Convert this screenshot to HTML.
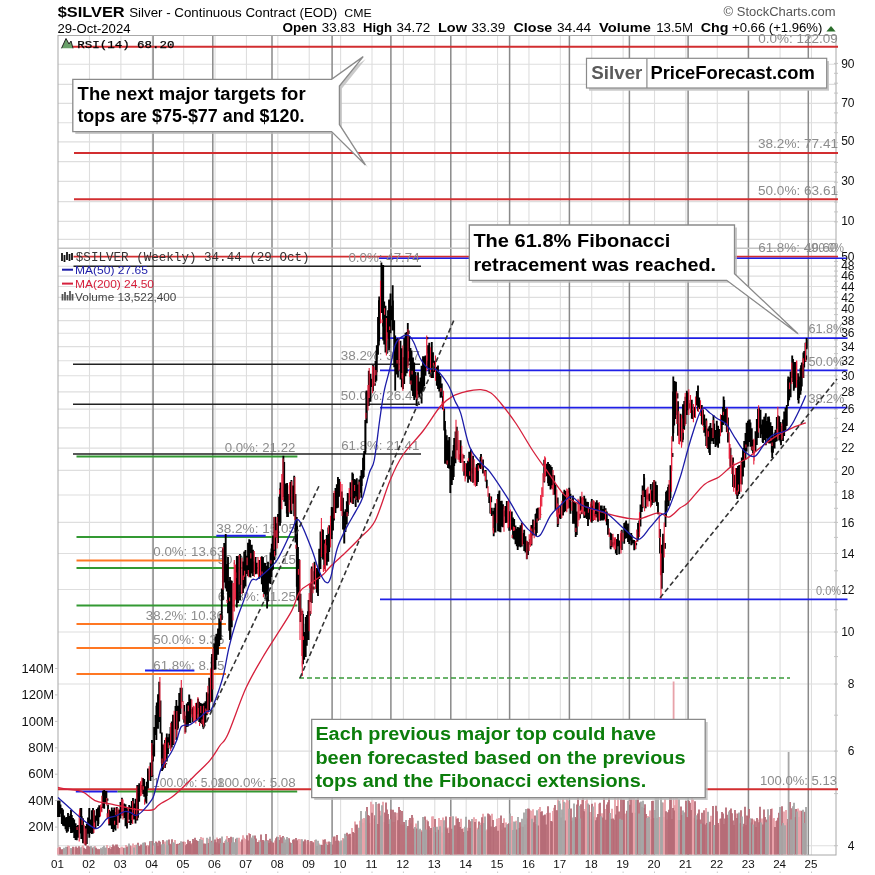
<!DOCTYPE html>
<html><head><meta charset="utf-8"><style>html,body{margin:0;padding:0;background:#fff;width:875px;height:875px;overflow:hidden;position:relative}</style></head>
<body>
<svg width="875" height="875" viewBox="0 0 875 875" style="position:absolute;left:0;top:0;will-change:transform">
<rect x="0" y="0" width="875" height="875" fill="#fff"/>
<path d="M89.49 35.5V855M120.88 35.5V855M152.27 35.5V855M183.66 35.5V855M215.05 35.5V855M246.44 35.5V855M277.83 35.5V855M309.22 35.5V855M340.61 35.5V855M372.00 35.5V855M403.39 35.5V855M434.78 35.5V855M466.17 35.5V855M497.56 35.5V855M528.95 35.5V855M560.34 35.5V855M591.73 35.5V855M623.12 35.5V855M654.51 35.5V855M685.90 35.5V855M717.29 35.5V855M748.68 35.5V855M780.07 35.5V855M811.46 35.5V855M58 64.3H836M58 84.4H836M58 103.4H836M58 122.8H836M58 141.9H836M58 161.6H836M58 181.4H836M58 201.6H836M58 221.4H836M58 239.4H836M58 845.68H836M58 751.12H836M58 684.03H836M58 632.00H836M58 589.48H836M58 553.53H836M58 522.39H836M58 494.93H836M58 470.36H836M58 448.13H836M58 427.84H836M58 409.17H836M58 391.89H836M58 375.80H836M58 360.75H836M58 346.61H836M58 333.28H836M58 320.67H836M58 308.71H836M58 297.34H836M58 286.49H836M58 276.12H836M58 266.20H836" stroke="#dedede" stroke-width="1.1" fill="none"/>
<path d="M153.1 35.5V855M212.8 35.5V855M272.0 35.5V855M332.1 35.5V855M390.9 35.5V855M450.8 35.5V855M509.6 35.5V855M569.4 35.5V855M629.4 35.5V855M688.1 35.5V855M748.4 35.5V855M808.3 35.5V855" stroke="#8a8a8a" stroke-width="1.5" fill="none"/>
<rect x="58" y="35.5" width="778" height="819.5" fill="none" stroke="#a8a8a8" stroke-width="1"/>
<line x1="58" y1="248.2" x2="836" y2="248.2" stroke="#c4c4c4" stroke-width="1.5"/>
<path d="M834 221.8H838M834 211.9H838M834 202.0H838M834 192.1H838M834 182.2H838M834 172.3H838M834 162.4H838M834 152.5H838M834 142.6H838M834 132.7H838M834 122.8H838M834 112.9H838M834 103.0H838M834 93.1H838M834 83.2H838M834 73.3H838M834 63.4H838M834 845.7H838M834 793.6H838M834 751.1H838M834 715.2H838M834 684.0H838M834 656.6H838M834 632.0H838M834 609.8H838M834 589.5H838M834 570.8H838M834 553.5H838M834 537.4H838M834 522.4H838M834 508.3H838M834 494.9H838M834 482.3H838M834 470.4H838M834 459.0H838M834 448.1H838M834 437.8H838M834 427.8H838M834 418.3H838M834 409.2H838M834 400.4H838M834 391.9H838M834 383.7H838M834 375.8H838M834 368.2H838M834 360.8H838M834 353.6H838M834 346.6H838M834 339.9H838M834 333.3H838M834 326.9H838M834 320.7H838M834 314.6H838M834 308.7H838M834 303.0H838M834 297.3H838M834 291.8H838M834 286.5H838M834 281.2H838M834 276.1H838M834 271.1H838M834 266.2H838M834 261.4H838M834 256.7H838M55 827.1H58M55 800.6H58M55 774.2H58M55 747.8H58M55 721.4H58M55 694.9H58M55 668.5H58" stroke="#c4c4c4" stroke-width="1" fill="none"/>
<path d="M58.0 854.5V848.1M59.0 854.5V846.7M63.0 854.5V849.1M65.0 854.5V848.9M68.0 854.5V845.4M69.0 854.5V845.9M70.0 854.5V848.8M74.0 854.5V847.2M75.0 854.5V849.2M78.0 854.5V847.6M82.0 854.5V846.4M83.0 854.5V845.4M95.0 854.5V846.0M98.0 854.5V848.7M100.0 854.5V848.9M107.0 854.5V844.9M108.0 854.5V848.2M110.0 854.5V846.3M115.0 854.5V845.5M120.0 854.5V848.1M121.0 854.5V847.4M122.0 854.5V846.7M123.0 854.5V848.3M126.0 854.5V845.0M128.0 854.5V846.2M131.0 854.5V847.5M132.0 854.5V846.0M133.0 854.5V843.4M135.0 854.5V844.9M136.0 854.5V844.7M142.0 854.5V845.5M147.0 854.5V845.1M148.0 854.5V846.9M153.0 854.5V845.5M154.0 854.5V845.6M165.0 854.5V841.5M166.0 854.5V845.4M171.0 854.5V845.1M175.0 854.5V840.0M176.0 854.5V844.0M184.0 854.5V841.5M185.0 854.5V842.1M192.0 854.5V843.1M201.0 854.5V837.1M203.0 854.5V837.7M205.0 854.5V843.8M209.0 854.5V838.7M217.0 854.5V837.6M223.0 854.5V842.6M225.0 854.5V841.0M227.0 854.5V836.0M230.0 854.5V842.3M238.0 854.5V840.3M239.0 854.5V837.8M240.0 854.5V841.6M241.0 854.5V842.2M243.0 854.5V835.3M244.0 854.5V837.7M245.0 854.5V839.1M246.0 854.5V840.0M249.0 854.5V833.1M257.0 854.5V842.0M259.0 854.5V840.2M262.0 854.5V840.1M272.0 854.5V843.1M274.0 854.5V842.9M275.0 854.5V840.6M280.0 854.5V834.9M290.0 854.5V842.1M295.0 854.5V840.4M298.0 854.5V839.4M299.0 854.5V839.0M300.0 854.5V844.2M301.0 854.5V839.3M306.0 854.5V840.5M307.0 854.5V844.3M309.0 854.5V841.4M310.0 854.5V845.2M312.0 854.5V841.0M314.0 854.5V842.7M315.0 854.5V839.9M319.0 854.5V843.4M323.0 854.5V839.4M327.0 854.5V841.7M333.0 854.5V837.5M335.0 854.5V836.4M339.0 854.5V840.9M342.0 854.5V840.6M343.0 854.5V837.9M348.0 854.5V834.7M351.0 854.5V837.3M352.0 854.5V828.1M355.0 854.5V821.6M358.0 854.5V829.7M360.0 854.5V820.8M362.0 854.5V818.7M363.0 854.5V822.8M364.0 854.5V818.1M365.0 854.5V819.1M370.0 854.5V823.3M371.0 854.5V801.8M373.0 854.5V804.3M374.0 854.5V818.4M377.0 854.5V804.1M380.0 854.5V810.8M383.0 854.5V801.7M384.0 854.5V822.2M392.0 854.5V821.8M394.0 854.5V822.1M396.0 854.5V816.5M397.0 854.5V812.7M401.0 854.5V824.4M403.0 854.5V824.7M405.0 854.5V824.4M407.0 854.5V828.0M409.0 854.5V819.9M411.0 854.5V823.2M413.0 854.5V817.7M416.0 854.5V823.6M421.0 854.5V830.1M427.0 854.5V819.8M430.0 854.5V829.9M432.0 854.5V816.4M433.0 854.5V816.3M439.0 854.5V817.9M441.0 854.5V820.1M442.0 854.5V832.5M443.0 854.5V817.4M445.0 854.5V827.2M448.0 854.5V827.5M451.0 854.5V816.5M454.0 854.5V826.1M456.0 854.5V816.5M461.0 854.5V818.8M463.0 854.5V828.2M467.0 854.5V827.7M473.0 854.5V820.4M474.0 854.5V817.2M476.0 854.5V818.9M477.0 854.5V827.7M481.0 854.5V822.8M483.0 854.5V813.8M486.0 854.5V830.9M487.0 854.5V829.4M492.0 854.5V813.7M495.0 854.5V828.5M497.0 854.5V818.7M499.0 854.5V818.0M500.0 854.5V824.9M502.0 854.5V829.5M504.0 854.5V818.3M506.0 854.5V822.6M511.0 854.5V823.1M512.0 854.5V815.9M516.0 854.5V820.7M521.0 854.5V826.5M525.0 854.5V824.6M527.0 854.5V818.2M530.0 854.5V810.2M531.0 854.5V810.7M533.0 854.5V809.2M536.0 854.5V824.0M539.0 854.5V809.0M540.0 854.5V806.9M547.0 854.5V813.1M549.0 854.5V813.3M550.0 854.5V812.7M553.0 854.5V811.1M554.0 854.5V807.7M556.0 854.5V810.3M558.0 854.5V798.6M563.0 854.5V798.6M566.0 854.5V802.4M567.0 854.5V798.7M568.0 854.5V800.7M570.0 854.5V816.4M572.0 854.5V820.7M582.0 854.5V799.8M585.0 854.5V809.0M586.0 854.5V800.8M587.0 854.5V798.7M590.0 854.5V812.1M591.0 854.5V819.6M594.0 854.5V816.8M595.0 854.5V802.4M599.0 854.5V803.8M602.0 854.5V813.3M605.0 854.5V808.9M612.0 854.5V808.8M615.0 854.5V794.0M618.0 854.5V797.6M625.0 854.5V813.8M626.0 854.5V813.6M629.0 854.5V800.4M633.0 854.5V793.4M634.0 854.5V795.7M635.0 854.5V812.8M648.0 854.5V816.0M650.0 854.5V810.5M651.0 854.5V819.2M659.0 854.5V817.0M660.0 854.5V816.9M663.0 854.5V802.6M664.0 854.5V817.2M665.0 854.5V799.1M667.0 854.5V819.4M675.0 854.5V805.2M676.0 854.5V796.2M677.0 854.5V797.4M678.0 854.5V820.0M685.0 854.5V812.2M692.0 854.5V797.9M693.0 854.5V799.2M694.0 854.5V817.7M706.0 854.5V807.9M709.0 854.5V823.8M711.0 854.5V815.8M712.0 854.5V820.0M719.0 854.5V824.9M720.0 854.5V818.7M728.0 854.5V818.0M736.0 854.5V813.4M754.0 854.5V819.4M758.0 854.5V819.5M762.0 854.5V818.6M769.0 854.5V817.0M770.0 854.5V815.2M772.0 854.5V808.6M773.0 854.5V819.0M774.0 854.5V817.9M776.0 854.5V821.1M784.0 854.5V811.4M786.0 854.5V809.9M787.0 854.5V822.6M789.0 854.5V816.0M798.0 854.5V808.6M799.0 854.5V816.9M800.0 854.5V810.4M801.0 854.5V811.2M673.6 854.5V681.6" stroke="#e8a2a9" stroke-width="1.8" fill="none"/>
<path d="M60.0 854.5V847.2M61.0 854.5V849.2M62.0 854.5V849.2M67.0 854.5V847.0M72.0 854.5V848.7M73.0 854.5V846.8M76.0 854.5V846.6M77.0 854.5V848.1M79.0 854.5V846.2M80.0 854.5V848.4M84.0 854.5V847.7M85.0 854.5V848.8M86.0 854.5V849.2M87.0 854.5V846.3M88.0 854.5V845.8M89.0 854.5V846.6M90.0 854.5V847.0M92.0 854.5V847.5M93.0 854.5V849.2M96.0 854.5V847.8M97.0 854.5V849.3M99.0 854.5V849.2M102.0 854.5V849.0M105.0 854.5V848.0M109.0 854.5V847.9M111.0 854.5V848.9M112.0 854.5V847.1M113.0 854.5V844.4M114.0 854.5V846.3M116.0 854.5V844.4M117.0 854.5V844.4M118.0 854.5V846.7M119.0 854.5V848.0M124.0 854.5V847.7M127.0 854.5V846.8M130.0 854.5V845.5M138.0 854.5V842.8M139.0 854.5V846.1M140.0 854.5V846.5M141.0 854.5V844.4M145.0 854.5V842.5M146.0 854.5V845.9M149.0 854.5V845.5M150.0 854.5V841.3M152.0 854.5V841.1M156.0 854.5V841.5M157.0 854.5V842.6M158.0 854.5V846.1M159.0 854.5V840.8M160.0 854.5V841.7M161.0 854.5V845.3M163.0 854.5V840.1M169.0 854.5V839.5M170.0 854.5V843.7M172.0 854.5V839.3M177.0 854.5V844.0M178.0 854.5V843.8M180.0 854.5V843.0M183.0 854.5V841.8M186.0 854.5V845.2M187.0 854.5V843.9M188.0 854.5V839.8M189.0 854.5V842.7M190.0 854.5V840.9M191.0 854.5V844.2M193.0 854.5V839.0M194.0 854.5V840.6M195.0 854.5V837.8M196.0 854.5V840.0M197.0 854.5V840.7M198.0 854.5V841.1M204.0 854.5V843.4M206.0 854.5V843.7M208.0 854.5V842.9M212.0 854.5V840.7M214.0 854.5V842.6M215.0 854.5V839.5M216.0 854.5V842.2M218.0 854.5V839.0M219.0 854.5V843.5M220.0 854.5V838.2M224.0 854.5V843.1M229.0 854.5V838.1M231.0 854.5V836.8M236.0 854.5V838.7M242.0 854.5V839.6M247.0 854.5V835.2M248.0 854.5V840.4M250.0 854.5V834.1M252.0 854.5V838.5M255.0 854.5V835.6M256.0 854.5V838.6M258.0 854.5V841.9M261.0 854.5V834.5M263.0 854.5V840.0M264.0 854.5V841.4M266.0 854.5V833.9M268.0 854.5V840.2M269.0 854.5V843.0M270.0 854.5V838.8M271.0 854.5V841.3M273.0 854.5V842.4M276.0 854.5V838.2M277.0 854.5V836.8M279.0 854.5V840.1M281.0 854.5V837.3M283.0 854.5V836.0M285.0 854.5V842.6M289.0 854.5V838.2M291.0 854.5V843.0M293.0 854.5V839.7M294.0 854.5V839.2M296.0 854.5V838.1M297.0 854.5V840.6M303.0 854.5V841.3M304.0 854.5V841.5M305.0 854.5V839.5M308.0 854.5V840.1M311.0 854.5V840.9M313.0 854.5V842.3M317.0 854.5V846.0M321.0 854.5V844.8M322.0 854.5V845.1M324.0 854.5V840.0M325.0 854.5V839.3M328.0 854.5V845.1M329.0 854.5V841.5M330.0 854.5V843.7M332.0 854.5V844.5M334.0 854.5V836.5M336.0 854.5V840.7M337.0 854.5V835.0M338.0 854.5V840.4M347.0 854.5V832.7M349.0 854.5V834.3M350.0 854.5V833.8M353.0 854.5V832.1M354.0 854.5V833.0M356.0 854.5V824.6M357.0 854.5V824.5M367.0 854.5V807.0M368.0 854.5V815.0M369.0 854.5V815.8M372.0 854.5V812.8M375.0 854.5V815.3M378.0 854.5V824.0M379.0 854.5V803.5M385.0 854.5V812.4M386.0 854.5V802.4M387.0 854.5V809.4M388.0 854.5V813.9M389.0 854.5V823.9M391.0 854.5V809.5M393.0 854.5V809.7M395.0 854.5V812.3M398.0 854.5V820.3M399.0 854.5V807.1M400.0 854.5V809.9M402.0 854.5V810.9M404.0 854.5V822.0M408.0 854.5V826.0M410.0 854.5V817.9M412.0 854.5V815.0M414.0 854.5V828.4M417.0 854.5V828.5M419.0 854.5V829.9M422.0 854.5V831.5M425.0 854.5V816.4M428.0 854.5V821.2M429.0 854.5V826.3M431.0 854.5V828.1M435.0 854.5V818.9M436.0 854.5V832.2M438.0 854.5V829.8M446.0 854.5V816.6M447.0 854.5V828.5M449.0 854.5V832.9M450.0 854.5V817.1M452.0 854.5V828.8M455.0 854.5V825.3M457.0 854.5V818.7M458.0 854.5V818.3M459.0 854.5V822.0M460.0 854.5V827.0M462.0 854.5V829.1M464.0 854.5V831.9M468.0 854.5V830.7M469.0 854.5V819.7M470.0 854.5V828.1M471.0 854.5V821.2M475.0 854.5V822.0M479.0 854.5V821.6M482.0 854.5V817.3M488.0 854.5V813.6M489.0 854.5V814.3M490.0 854.5V815.4M491.0 854.5V826.5M493.0 854.5V820.1M494.0 854.5V827.1M496.0 854.5V826.3M498.0 854.5V830.7M501.0 854.5V815.6M503.0 854.5V823.1M505.0 854.5V827.4M508.0 854.5V824.3M509.0 854.5V823.3M517.0 854.5V829.5M519.0 854.5V827.9M520.0 854.5V822.2M523.0 854.5V826.8M528.0 854.5V808.6M529.0 854.5V808.8M534.0 854.5V822.3M535.0 854.5V815.5M538.0 854.5V825.4M541.0 854.5V812.1M542.0 854.5V811.2M543.0 854.5V815.7M544.0 854.5V815.3M545.0 854.5V814.6M546.0 854.5V824.4M548.0 854.5V806.3M551.0 854.5V820.9M552.0 854.5V821.6M555.0 854.5V805.0M557.0 854.5V810.2M565.0 854.5V820.4M571.0 854.5V808.5M575.0 854.5V817.0M576.0 854.5V818.4M577.0 854.5V804.5M578.0 854.5V798.1M581.0 854.5V804.3M583.0 854.5V794.5M584.0 854.5V811.3M589.0 854.5V804.8M592.0 854.5V803.7M596.0 854.5V820.2M597.0 854.5V817.3M598.0 854.5V814.0M600.0 854.5V802.8M603.0 854.5V817.4M604.0 854.5V796.0M606.0 854.5V819.7M607.0 854.5V804.5M608.0 854.5V802.2M609.0 854.5V794.1M611.0 854.5V818.8M613.0 854.5V818.4M614.0 854.5V819.7M616.0 854.5V814.5M617.0 854.5V806.0M619.0 854.5V811.5M621.0 854.5V798.4M623.0 854.5V799.4M624.0 854.5V799.5M627.0 854.5V810.7M630.0 854.5V804.7M631.0 854.5V798.2M632.0 854.5V812.7M637.0 854.5V799.4M638.0 854.5V795.7M640.0 854.5V802.6M644.0 854.5V807.9M645.0 854.5V804.3M646.0 854.5V814.1M652.0 854.5V800.9M653.0 854.5V800.8M654.0 854.5V818.2M666.0 854.5V811.2M668.0 854.5V812.2M669.0 854.5V809.8M670.0 854.5V793.4M671.0 854.5V796.5M672.0 854.5V819.1M673.0 854.5V808.0M674.0 854.5V810.4M680.0 854.5V819.9M681.0 854.5V806.4M682.0 854.5V814.9M686.0 854.5V800.7M687.0 854.5V817.0M688.0 854.5V817.8M689.0 854.5V800.8M690.0 854.5V802.7M691.0 854.5V809.9M695.0 854.5V801.3M697.0 854.5V819.5M698.0 854.5V813.5M699.0 854.5V809.6M700.0 854.5V819.6M702.0 854.5V812.7M703.0 854.5V823.5M704.0 854.5V810.3M705.0 854.5V824.4M707.0 854.5V823.0M710.0 854.5V821.8M713.0 854.5V805.9M715.0 854.5V825.0M716.0 854.5V805.7M717.0 854.5V811.2M718.0 854.5V822.9M721.0 854.5V818.5M722.0 854.5V812.1M723.0 854.5V813.4M724.0 854.5V824.1M725.0 854.5V818.4M726.0 854.5V807.4M727.0 854.5V814.7M730.0 854.5V810.3M731.0 854.5V808.6M732.0 854.5V813.2M733.0 854.5V820.4M734.0 854.5V825.1M735.0 854.5V810.1M737.0 854.5V817.9M738.0 854.5V813.6M740.0 854.5V823.2M741.0 854.5V810.2M743.0 854.5V826.4M744.0 854.5V823.7M745.0 854.5V806.7M746.0 854.5V825.0M747.0 854.5V815.4M748.0 854.5V816.0M749.0 854.5V809.1M751.0 854.5V822.6M752.0 854.5V818.6M755.0 854.5V821.2M756.0 854.5V826.9M757.0 854.5V818.0M759.0 854.5V822.3M760.0 854.5V806.7M763.0 854.5V824.4M764.0 854.5V809.5M765.0 854.5V817.0M767.0 854.5V819.5M771.0 854.5V809.0M775.0 854.5V827.1M777.0 854.5V820.6M778.0 854.5V817.8M779.0 854.5V812.8M782.0 854.5V806.3M788.0 854.5V819.1M790.0 854.5V801.9M792.0 854.5V808.2M795.0 854.5V817.3M796.0 854.5V808.9M802.0 854.5V810.8M805.0 854.5V811.8" stroke="#b66c77" stroke-width="1.8" fill="none"/>
<path d="M64.0 854.5V847.7M66.0 854.5V846.8M71.0 854.5V848.1M81.0 854.5V847.3M91.0 854.5V846.0M94.0 854.5V846.8M101.0 854.5V847.7M103.0 854.5V847.0M104.0 854.5V845.7M106.0 854.5V847.6M125.0 854.5V848.1M129.0 854.5V843.6M134.0 854.5V847.6M137.0 854.5V844.7M143.0 854.5V842.7M144.0 854.5V842.4M151.0 854.5V841.3M155.0 854.5V842.9M162.0 854.5V844.3M164.0 854.5V843.7M167.0 854.5V840.2M168.0 854.5V845.2M173.0 854.5V842.3M174.0 854.5V842.8M179.0 854.5V844.7M181.0 854.5V841.3M182.0 854.5V842.4M199.0 854.5V840.9M200.0 854.5V839.1M202.0 854.5V840.0M207.0 854.5V837.8M210.0 854.5V836.8M211.0 854.5V842.2M213.0 854.5V835.6M221.0 854.5V843.0M222.0 854.5V836.6M226.0 854.5V839.6M228.0 854.5V841.9M232.0 854.5V842.4M233.0 854.5V837.2M234.0 854.5V842.2M235.0 854.5V842.3M237.0 854.5V837.7M251.0 854.5V837.4M253.0 854.5V835.6M254.0 854.5V839.1M260.0 854.5V841.8M265.0 854.5V840.4M267.0 854.5V840.7M278.0 854.5V837.1M282.0 854.5V843.3M284.0 854.5V837.4M286.0 854.5V839.5M287.0 854.5V837.0M288.0 854.5V839.0M292.0 854.5V843.3M302.0 854.5V839.3M316.0 854.5V839.5M318.0 854.5V840.8M320.0 854.5V845.0M326.0 854.5V843.8M331.0 854.5V842.1M340.0 854.5V842.3M341.0 854.5V840.4M344.0 854.5V839.0M345.0 854.5V833.8M346.0 854.5V836.1M359.0 854.5V827.7M361.0 854.5V811.0M366.0 854.5V811.3M376.0 854.5V802.1M381.0 854.5V815.5M382.0 854.5V805.2M390.0 854.5V819.3M406.0 854.5V820.0M415.0 854.5V827.1M418.0 854.5V820.7M420.0 854.5V828.8M423.0 854.5V816.9M424.0 854.5V819.8M426.0 854.5V829.5M434.0 854.5V826.9M437.0 854.5V826.7M440.0 854.5V826.2M444.0 854.5V820.3M453.0 854.5V816.2M465.0 854.5V826.7M466.0 854.5V816.8M472.0 854.5V818.9M478.0 854.5V829.3M480.0 854.5V824.9M484.0 854.5V823.1M485.0 854.5V816.4M507.0 854.5V824.4M510.0 854.5V813.4M513.0 854.5V829.9M514.0 854.5V821.6M515.0 854.5V821.9M518.0 854.5V817.0M522.0 854.5V818.7M524.0 854.5V812.4M526.0 854.5V808.9M532.0 854.5V818.7M537.0 854.5V810.3M559.0 854.5V800.7M560.0 854.5V803.6M561.0 854.5V817.4M562.0 854.5V809.6M564.0 854.5V801.8M569.0 854.5V808.7M573.0 854.5V817.4M574.0 854.5V803.6M579.0 854.5V805.8M580.0 854.5V818.4M588.0 854.5V803.4M593.0 854.5V806.4M601.0 854.5V816.3M610.0 854.5V813.1M620.0 854.5V818.7M622.0 854.5V819.8M628.0 854.5V800.8M636.0 854.5V799.5M639.0 854.5V813.4M641.0 854.5V801.6M642.0 854.5V807.0M643.0 854.5V800.7M647.0 854.5V817.9M649.0 854.5V817.1M655.0 854.5V810.0M656.0 854.5V797.4M657.0 854.5V818.2M658.0 854.5V794.8M661.0 854.5V796.6M662.0 854.5V802.5M679.0 854.5V799.0M683.0 854.5V810.4M684.0 854.5V812.8M696.0 854.5V815.2M701.0 854.5V823.8M708.0 854.5V811.8M714.0 854.5V825.0M729.0 854.5V811.4M739.0 854.5V812.5M742.0 854.5V816.5M750.0 854.5V818.2M753.0 854.5V824.5M761.0 854.5V822.4M766.0 854.5V822.3M768.0 854.5V809.3M780.0 854.5V806.9M781.0 854.5V825.6M783.0 854.5V823.1M785.0 854.5V825.3M791.0 854.5V819.5M793.0 854.5V806.2M794.0 854.5V802.7M797.0 854.5V811.4M803.0 854.5V809.7M804.0 854.5V823.1M806.0 854.5V807.0M788.6 854.5V752" stroke="#a6a6a6" stroke-width="1.8" fill="none"/>
<line x1="73" y1="46.8" x2="838" y2="46.8" stroke="#d22e30" stroke-width="2"/>
<line x1="74" y1="153" x2="838" y2="153" stroke="#d22e30" stroke-width="2"/>
<line x1="74" y1="199.3" x2="838" y2="199.3" stroke="#d22e30" stroke-width="2"/>
<line x1="73.5" y1="266.2" x2="421" y2="266.2" stroke="#222" stroke-width="1.6"/>
<line x1="73" y1="364.3" x2="420" y2="364.3" stroke="#222" stroke-width="1.6"/>
<line x1="73" y1="404.2" x2="420" y2="404.2" stroke="#222" stroke-width="1.6"/>
<line x1="73" y1="454" x2="421" y2="454" stroke="#222" stroke-width="1.6"/>
<line x1="76.5" y1="456.6" x2="297.4" y2="456.6" stroke="#339933" stroke-width="2"/>
<line x1="76.5" y1="537" x2="297.4" y2="537" stroke="#339933" stroke-width="2"/>
<line x1="76.5" y1="568" x2="297.4" y2="568" stroke="#339933" stroke-width="2"/>
<line x1="76.5" y1="605.5" x2="297.4" y2="605.5" stroke="#339933" stroke-width="2"/>
<line x1="117.4" y1="791.4" x2="297.2" y2="791.4" stroke="#339933" stroke-width="2"/>
<line x1="76.5" y1="560.5" x2="226" y2="560.5" stroke="#ff7722" stroke-width="2"/>
<line x1="76.5" y1="624" x2="226" y2="624" stroke="#ff7722" stroke-width="2"/>
<line x1="76.5" y1="648" x2="226" y2="648" stroke="#ff7722" stroke-width="2"/>
<line x1="76.5" y1="674" x2="226" y2="674" stroke="#ff7722" stroke-width="2"/>
<line x1="145" y1="670.4" x2="194.4" y2="670.4" stroke="#1f1fe6" stroke-width="2"/>
<line x1="216.3" y1="535.7" x2="265.7" y2="535.7" stroke="#1f1fe6" stroke-width="2"/>
<line x1="75.8" y1="791.4" x2="117.4" y2="791.4" stroke="#1f1fe6" stroke-width="2"/>
<line x1="58" y1="789.3" x2="838" y2="789.3" stroke="#d22e30" stroke-width="2"/>
<line x1="73.5" y1="256.6" x2="838" y2="256.6" stroke="#d22e30" stroke-width="1.6"/>
<line x1="379" y1="258.2" x2="847" y2="258.2" stroke="#1f1fe6" stroke-width="1.6"/>
<line x1="380" y1="338.1" x2="847.5" y2="338.1" stroke="#1f1fe6" stroke-width="1.7"/>
<line x1="380" y1="370.4" x2="847.5" y2="370.4" stroke="#1f1fe6" stroke-width="1.7"/>
<line x1="380" y1="407.6" x2="847.5" y2="407.6" stroke="#1f1fe6" stroke-width="1.7"/>
<line x1="380" y1="599.4" x2="847.5" y2="599.4" stroke="#1f1fe6" stroke-width="1.7"/>
<line x1="299" y1="678.1" x2="790" y2="678.1" stroke="#3a9a3a" stroke-width="1.5" stroke-dasharray="5,3"/>
<text x="758.2" y="42.5" font-family="Liberation Sans, sans-serif" font-size="12" fill="#8c8c8c" font-weight="normal" text-anchor="start" textLength="79.6" lengthAdjust="spacingAndGlyphs">0.0%: 122.09</text>
<text x="758" y="148" font-family="Liberation Sans, sans-serif" font-size="12" fill="#8c8c8c" font-weight="normal" text-anchor="start" textLength="80" lengthAdjust="spacingAndGlyphs">38.2%: 77.41</text>
<text x="758" y="194.5" font-family="Liberation Sans, sans-serif" font-size="12" fill="#8c8c8c" font-weight="normal" text-anchor="start" textLength="80" lengthAdjust="spacingAndGlyphs">50.0%: 63.61</text>
<text x="758.2" y="252" font-family="Liberation Sans, sans-serif" font-size="12" fill="#8c8c8c" font-weight="normal" text-anchor="start" textLength="79" lengthAdjust="spacingAndGlyphs">61.8%: 49.60</text>
<text x="806" y="252" font-family="Liberation Sans, sans-serif" font-size="12" fill="#8c8c8c" font-weight="normal" text-anchor="start" textLength="38" lengthAdjust="spacingAndGlyphs">100.0%</text>
<text x="348.4" y="262.3" font-family="Liberation Sans, sans-serif" font-size="12" fill="#8c8c8c" font-weight="normal" text-anchor="start" textLength="71.3" lengthAdjust="spacingAndGlyphs">0.0%: 47.74</text>
<text x="340.7" y="360" font-family="Liberation Sans, sans-serif" font-size="12" fill="#8c8c8c" font-weight="normal" text-anchor="start" textLength="79.3" lengthAdjust="spacingAndGlyphs">38.2%: 31.47</text>
<text x="340.7" y="400" font-family="Liberation Sans, sans-serif" font-size="12" fill="#8c8c8c" font-weight="normal" text-anchor="start" textLength="79.3" lengthAdjust="spacingAndGlyphs">50.0%: 26.44</text>
<text x="341.2" y="450" font-family="Liberation Sans, sans-serif" font-size="12" fill="#8c8c8c" font-weight="normal" text-anchor="start" textLength="78.2" lengthAdjust="spacingAndGlyphs">61.8%: 21.41</text>
<text x="224.7" y="452.2" font-family="Liberation Sans, sans-serif" font-size="12" fill="#8c8c8c" font-weight="normal" text-anchor="start" textLength="70.7" lengthAdjust="spacingAndGlyphs">0.0%: 21.22</text>
<text x="216.3" y="532.5" font-family="Liberation Sans, sans-serif" font-size="12" fill="#8c8c8c" font-weight="normal" text-anchor="start" textLength="79.7" lengthAdjust="spacingAndGlyphs">38.2%: 15.05</text>
<text x="217.7" y="564.2" font-family="Liberation Sans, sans-serif" font-size="12" fill="#8c8c8c" font-weight="normal" text-anchor="start" textLength="78.3" lengthAdjust="spacingAndGlyphs">50.0%: 13.15</text>
<text x="217.7" y="601.2" font-family="Liberation Sans, sans-serif" font-size="12" fill="#8c8c8c" font-weight="normal" text-anchor="start" textLength="78.3" lengthAdjust="spacingAndGlyphs">61.8%: 11.25</text>
<text x="153.3" y="556" font-family="Liberation Sans, sans-serif" font-size="12" fill="#8c8c8c" font-weight="normal" text-anchor="start" textLength="71" lengthAdjust="spacingAndGlyphs">0.0%: 13.63</text>
<text x="145.8" y="620.2" font-family="Liberation Sans, sans-serif" font-size="12" fill="#8c8c8c" font-weight="normal" text-anchor="start" textLength="78.2" lengthAdjust="spacingAndGlyphs">38.2%: 10.36</text>
<text x="153.3" y="643.5" font-family="Liberation Sans, sans-serif" font-size="12" fill="#8c8c8c" font-weight="normal" text-anchor="start" textLength="71" lengthAdjust="spacingAndGlyphs">50.0%: 9.36</text>
<text x="153.3" y="669.5" font-family="Liberation Sans, sans-serif" font-size="12" fill="#8c8c8c" font-weight="normal" text-anchor="start" textLength="71" lengthAdjust="spacingAndGlyphs">61.8%: 8.35</text>
<text x="153" y="786.5" font-family="Liberation Sans, sans-serif" font-size="12" fill="#8c8c8c" font-weight="normal" text-anchor="start" textLength="71.4" lengthAdjust="spacingAndGlyphs">100.0%: 5.08</text>
<text x="217" y="786.5" font-family="Liberation Sans, sans-serif" font-size="12" fill="#8c8c8c" font-weight="normal" text-anchor="start" textLength="78.7" lengthAdjust="spacingAndGlyphs">100.0%: 5.08</text>
<text x="760" y="784.6" font-family="Liberation Sans, sans-serif" font-size="12" fill="#8c8c8c" font-weight="normal" text-anchor="start" textLength="77" lengthAdjust="spacingAndGlyphs">100.0%: 5.13</text>
<text x="808.4" y="333.4" font-family="Liberation Sans, sans-serif" font-size="12" fill="#8c8c8c" font-weight="normal" text-anchor="start" textLength="36" lengthAdjust="spacingAndGlyphs">61.8%</text>
<text x="808.4" y="365.8" font-family="Liberation Sans, sans-serif" font-size="12" fill="#8c8c8c" font-weight="normal" text-anchor="start" textLength="36" lengthAdjust="spacingAndGlyphs">50.0%</text>
<text x="808.4" y="403" font-family="Liberation Sans, sans-serif" font-size="12" fill="#8c8c8c" font-weight="normal" text-anchor="start" textLength="36" lengthAdjust="spacingAndGlyphs">38.2%</text>
<text x="816" y="595" font-family="Liberation Sans, sans-serif" font-size="12" fill="#8c8c8c" font-weight="normal" text-anchor="start" textLength="25" lengthAdjust="spacingAndGlyphs">0.0%</text>
<path d="M58.0 800.7V810.4M59.2 800.6V816.5M60.5 804.4V813.8M61.8 808.7V823.5M63.0 809.4V825.7M64.2 815.6V826.3M65.5 817.7V829.2M66.8 818.9V832.7M68.0 813.1V831.4M69.2 816.0V827.0M70.5 814.3V828.7M71.8 815.0V833.1M73.0 818.0V832.6M74.2 819.4V837.9M75.5 823.2V839.3M76.8 826.1V840.2M78.0 825.0V837.7M80.5 807.9V833.4M81.8 816.2V833.0M83.0 818.3V843.3M85.5 826.0V845.3M86.8 823.9V844.1M88.0 817.4V833.7M89.2 809.2V834.3M90.5 819.6V832.9M91.8 810.2V833.9M93.0 808.0V833.5M94.2 810.3V828.7M95.5 815.4V828.4M96.8 809.1V820.8M98.0 807.6V826.1M99.2 805.2V817.2M101.2 806.7V811.5M102.5 812.2V812.3M103.0 790.8V803.5M104.2 790.0V808.8M105.5 791.0V802.0M107.5 798.5V800.7M108.0 804.4V819.0M109.2 810.0V825.6M110.5 811.2V825.5M111.8 807.6V829.1M113.0 813.4V827.9M114.2 807.6V828.9M115.5 811.9V830.4M116.8 806.9V824.9M118.7 810.3V816.0M119.2 809.6V822.8M120.5 801.9V818.6M122.5 812.8V815.5M124.2 803.6V817.9M125.5 804.3V826.2M126.8 807.0V821.0M128.7 821.3V822.9M129.2 805.1V819.7M130.5 806.4V825.0M131.8 801.1V823.2M133.0 798.0V819.4M134.2 803.6V819.6M135.5 798.8V823.5M138.0 793.2V817.7M139.2 783.2V801.8M141.2 784.9V790.2M143.0 779.2V790.4M144.2 778.9V796.8M145.5 786.5V801.8M146.8 781.8V795.9M148.0 771.3V788.1M150.5 762.4V781.1M152.4 775.2V776.2M153.0 744.5V761.5M154.2 727.0V756.6M155.5 715.0V735.1M156.8 702.5V725.9M158.0 694.3V728.8M159.2 681.7V722.1M160.5 700.6V733.5M161.8 732.5V763.6M163.0 744.6V769.5M164.9 764.8V768.0M166.2 763.2V764.3M166.8 733.6V761.5M168.0 737.3V754.0M169.2 733.7V745.2M170.5 726.9V748.7M171.8 721.6V747.5M173.0 714.8V745.1M175.5 706.1V729.2M177.4 726.0V730.0M178.0 705.8V728.5M179.2 693.0V721.4M180.5 687.8V714.0M181.8 687.7V702.1M183.7 719.2V719.6M184.2 705.1V722.8M185.5 715.7V732.6M186.8 703.4V727.1M188.0 701.9V726.5M189.2 694.4V716.6M190.5 698.8V723.0M192.4 709.0V714.3M193.0 707.2V721.9M196.8 702.8V720.5M198.0 698.5V714.3M199.2 701.8V722.0M200.5 703.1V723.1M201.8 703.4V723.9M203.0 704.1V727.4M204.2 702.8V726.3M205.5 701.2V722.7M206.8 692.2V715.3M208.0 693.6V712.2M209.2 677.8V710.3M211.8 657.2V701.7M214.2 643.6V669.7M215.5 636.7V669.6M216.8 633.7V653.5M218.0 628.4V654.7M219.2 618.4V646.2M220.5 613.5V636.7M221.8 588.5V619.9M223.7 551.8V556.9M224.2 542.9V582.6M225.5 546.9V587.4M226.8 563.7V591.4M228.0 557.0V613.2M229.2 581.1V630.7M230.5 579.9V636.9M231.8 580.8V627.2M236.2 577.1V579.9M236.8 555.9V607.4M238.0 556.3V603.0M239.9 567.8V570.5M240.5 555.9V585.0M243.0 561.6V592.9M244.2 552.0V580.4M245.5 550.1V586.4M246.8 556.1V574.0M248.0 542.8V575.9M249.2 539.2V575.8M250.5 548.7V577.4M251.8 544.7V573.6M253.0 549.7V576.0M254.2 561.4V571.8M255.5 557.1V574.2M256.8 562.8V573.8M259.2 560.0V578.8M261.8 556.2V584.2M263.0 557.2V592.1M264.2 562.7V594.2M265.5 562.9V599.5M266.8 572.6V596.7M268.0 561.7V601.5M269.2 567.8V583.2M270.5 552.5V584.1M271.8 543.7V571.1M273.0 535.4V569.7M274.9 520.7V525.9M275.5 516.8V555.5M276.8 523.2V537.3M278.0 514.0V543.0M279.2 496.8V522.1M280.5 482.5V523.1M283.7 486.3V489.4M284.2 462.1V501.8M285.5 483.4V505.9M286.8 485.2V513.6M288.0 494.1V517.1M289.9 494.0V499.9M290.5 482.1V513.8M292.4 490.1V493.3M293.0 485.6V503.7M294.2 475.7V516.3M295.5 494.0V542.5M296.8 516.9V586.7M298.0 546.9V600.4M299.2 559.2V612.0M300.5 593.8V621.9M302.4 610.7V615.2M303.0 613.9V664.3M304.2 632.0V659.7M305.5 623.7V648.1M306.8 615.0V645.8M308.0 611.3V634.4M309.9 611.1V615.8M310.5 584.0V601.9M311.8 566.5V603.0M313.7 586.5V589.5M314.2 571.3V584.0M316.8 568.0V592.8M318.0 578.0V595.5M319.2 548.7V579.0M320.5 531.4V569.1M321.8 529.0V557.6M323.0 529.7V559.6M324.2 539.7V568.9M326.8 535.0V565.5M328.0 535.9V548.7M329.2 525.2V552.1M331.2 521.4V526.2M331.8 506.9V535.1M333.0 507.6V530.5M335.5 487.9V513.1M336.8 484.2V508.2M338.0 477.4V507.8M339.2 479.0V496.7M341.2 506.4V511.1M341.8 491.6V509.9M343.0 497.8V529.5M344.2 515.8V543.5M345.5 509.2V532.1M346.8 501.2V524.4M348.0 493.5V513.5M350.5 482.3V502.5M352.4 498.8V502.9M353.0 473.8V504.0M354.2 479.0V498.2M355.5 480.0V505.6M356.8 478.3V500.0M358.0 484.6V502.5M359.2 479.4V498.9M360.5 475.7V492.8M361.8 474.9V485.9M363.0 457.7V478.4M364.2 451.1V470.2M365.5 422.2V452.1M366.8 390.4V423.2M370.5 373.7V401.7M371.8 378.8V387.0M373.0 365.1V391.3M374.9 383.2V385.7M375.5 361.0V382.6M376.8 345.2V372.2M378.0 317.0V354.7M379.2 296.4V341.2M381.2 307.9V310.1M381.8 276.8V310.8M383.0 281.8V326.6M384.2 301.5V344.6M385.5 305.7V352.5M386.8 316.1V353.7M388.0 310.2V337.8M389.2 299.4V348.1M390.5 293.4V333.3M391.8 305.7V320.3M393.0 300.4V321.2M394.2 320.2V367.3M395.5 348.8V370.3M396.8 339.1V374.5M398.0 338.2V377.4M400.5 340.8V379.5M401.8 348.3V387.2M403.0 357.2V388.9M404.2 338.3V384.1M405.5 332.8V376.2M406.8 332.1V373.3M408.7 330.5V334.1M409.2 336.0V361.6M410.5 348.1V383.9M411.8 360.2V381.8M413.0 357.5V395.9M414.2 362.6V400.0M415.5 372.0V397.3M418.0 372.2V394.6M419.2 381.5V397.3M420.5 377.6V393.4M421.8 376.0V390.2M423.0 356.2V391.6M424.2 356.3V386.3M425.5 355.5V375.7M427.4 336.9V339.3M428.0 345.3V368.5M429.2 342.7V374.3M431.8 342.0V365.6M433.0 352.2V378.1M434.2 360.7V371.9M436.8 366.8V385.7M438.0 365.4V389.1M439.2 372.6V391.4M440.5 377.5V397.7M441.8 383.5V397.4M443.0 396.2V409.4M444.2 408.4V430.4M445.5 429.4V455.4M446.8 435.2V464.4M448.0 440.2V467.9M449.2 437.0V468.2M450.5 465.2V482.6M451.8 456.5V485.0M453.0 450.6V480.0M454.2 438.0V465.9M455.5 431.6V463.2M456.8 426.7V450.3M459.9 454.2V460.0M460.5 443.2V458.0M463.7 454.9V458.6M464.2 460.9V475.8M466.8 463.2V476.5M468.0 460.7V482.7M469.2 451.7V479.6M470.5 456.5V474.0M472.4 468.4V473.6M473.0 455.7V482.8M476.8 464.0V484.0M478.0 463.0V481.9M479.2 463.2V467.8M480.5 457.1V468.9M483.0 459.4V473.6M484.9 470.2V475.6M486.8 479.7V488.3M489.2 493.3V503.0M491.2 496.5V502.2M491.8 507.8V516.0M494.2 507.8V530.5M495.5 503.2V532.6M498.0 494.0V531.2M499.2 491.5V523.0M500.5 501.1V532.3M501.8 500.8V526.8M503.0 504.2V527.2M504.9 510.6V516.4M505.5 506.1V523.1M506.8 501.1V522.7M509.2 511.2V530.7M511.2 521.0V524.2M511.8 511.5V529.7M513.0 517.4V535.1M514.2 519.1V539.4M515.5 525.6V544.2M516.8 528.8V546.2M518.0 531.0V546.8M519.2 527.5V546.5M520.5 525.3V547.2M521.8 522.7V546.4M523.0 533.1V544.0M524.2 529.7V551.0M525.5 536.2V552.5M526.8 540.7V559.2M528.0 542.0V555.1M530.0 539.1V544.7M531.2 540.4V545.2M533.0 519.6V535.6M535.0 527.0V529.5M535.5 514.0V530.2M536.8 508.5V533.1M538.0 507.8V520.7M540.0 518.4V519.5M541.2 514.1V514.3M544.2 459.8V482.4M546.2 465.0V468.4M546.8 463.7V476.3M548.0 462.0V483.3M549.2 464.0V485.2M550.5 465.2V489.5M551.8 466.9V488.3M553.0 474.9V486.9M554.2 475.3V494.8M555.5 484.5V509.9M557.5 509.7V513.8M559.2 511.4V517.9M560.5 505.1V519.0M563.0 493.4V515.5M564.2 491.6V506.3M565.5 490.9V511.1M568.7 491.5V497.4M569.2 487.8V507.6M570.5 493.7V513.8M573.0 495.4V523.8M574.2 501.8V523.8M575.5 502.0V531.9M576.8 511.5V534.9M580.0 513.7V518.6M580.5 496.2V511.1M581.8 497.8V514.1M583.7 497.8V500.3M584.2 495.8V518.1M585.5 498.6V517.8M586.8 501.8V519.1M588.0 507.1V526.1M589.2 506.9V519.6M591.8 498.9V522.7M593.0 505.8V520.7M595.0 512.6V517.4M595.5 502.2V516.9M596.8 500.3V517.6M598.0 502.7V521.8M600.0 511.8V514.2M600.5 505.4V520.7M601.8 505.6V520.3M603.0 509.0V520.4M604.2 505.7V519.4M606.8 511.5V525.3M608.0 519.1V534.8M610.0 532.4V535.4M610.5 532.9V548.3M611.8 533.9V547.0M613.7 542.2V545.4M615.0 538.4V544.3M616.2 539.2V543.3M616.8 539.9V555.0M618.0 534.0V546.2M619.2 540.4V554.3M621.8 529.7V550.1M624.2 523.1V543.8M625.5 521.9V538.8M626.8 526.9V538.0M628.0 523.6V541.9M629.2 532.4V543.9M630.5 533.7V540.5M631.8 535.0V544.6M633.0 539.7V543.2M634.2 540.1V550.2M636.2 542.9V545.3M637.5 538.7V541.5M638.0 523.1V539.2M639.2 520.6V531.8M640.5 504.4V526.6M641.8 494.9V512.0M644.2 477.7V496.6M645.5 491.1V508.2M647.5 494.4V499.4M649.2 493.6V501.3M651.2 498.6V504.2M651.8 490.6V505.1M653.0 482.2V502.8M654.2 479.9V502.5M655.5 481.6V501.7M656.8 484.9V503.4M658.0 502.3V514.2M660.0 529.0V535.0M661.2 560.6V563.8M661.8 544.8V588.7M663.0 533.7V572.9M665.0 542.9V548.8M665.5 500.6V527.0M666.8 490.4V510.4M668.0 486.9V501.9M670.0 497.4V500.4M670.5 465.3V497.9M672.5 452.9V456.9M673.0 391.4V441.6M674.2 380.9V425.5M675.5 381.5V418.9M677.5 393.3V398.5M678.0 401.3V435.7M680.5 413.8V441.5M682.5 437.6V442.2M683.0 404.2V439.7M684.2 400.9V429.7M685.5 396.7V424.1M686.8 390.7V415.1M688.0 392.4V410.2M690.0 403.2V408.0M691.8 399.7V418.7M693.0 410.2V419.1M694.2 407.1V417.4M696.8 391.0V405.6M698.0 385.9V410.4M699.2 397.5V409.1M701.2 411.7V414.5M701.8 405.1V424.4M703.0 409.5V424.9M704.2 414.6V432.7M705.5 425.8V436.2M708.0 428.5V449.0M709.2 426.4V452.7M710.5 423.1V443.9M711.8 428.0V441.2M714.2 423.5V438.7M715.5 429.9V446.9M716.8 420.8V445.6M718.0 428.1V444.5M719.2 428.9V443.4M721.2 428.1V432.4M721.8 415.0V432.1M723.0 406.9V425.0M724.2 399.9V423.1M725.5 409.0V425.6M726.8 408.3V432.0M728.0 417.4V442.5M730.5 447.7V467.6M733.0 457.6V487.0M734.2 474.8V487.8M736.2 483.4V488.6M736.8 468.1V495.4M738.0 466.0V495.7M739.2 465.1V493.9M741.2 466.3V469.6M741.8 457.4V484.6M743.0 448.0V476.4M744.2 441.0V467.4M745.5 433.1V459.6M746.8 423.3V446.9M748.0 420.7V446.4M749.2 419.4V439.5M750.5 422.4V446.8M751.8 428.3V450.6M753.0 439.7V453.2M755.5 431.2V451.4M756.8 419.1V445.1M758.0 408.7V437.9M759.2 408.3V428.3M760.5 409.7V438.0M761.8 424.4V434.2M763.0 426.7V443.0M764.2 416.8V440.0M765.5 415.5V439.5M766.8 420.9V438.1M768.0 416.7V442.7M769.2 419.3V443.5M770.5 422.2V443.4M771.8 429.4V452.6M773.0 437.3V452.8M774.2 436.0V448.6M775.5 429.7V442.0M776.8 416.9V441.2M778.0 415.5V432.6M779.2 416.3V440.4M780.5 421.9V442.2M783.0 419.4V440.9M784.2 411.4V435.9M785.5 408.1V430.2M786.8 405.0V425.4M788.0 379.0V406.0M789.2 377.3V400.2M790.5 378.1V395.0M792.5 364.6V367.0M793.0 359.0V382.1M794.2 370.8V388.4M795.5 361.9V387.8M798.0 373.2V400.0M799.2 381.8V398.3M800.5 368.2V394.8M801.8 362.5V386.6M804.2 351.0V367.5M806.2 355.6V359.8M806.8 339.8V347.7M58.0 801.0V817.0M59.6 801.0V817.0M61.9 808.0V824.0M66.4 817.0V831.0M71.0 810.0V833.0M75.6 824.0V840.0M81.3 808.0V839.0M89.3 808.0V837.7M98.4 808.0V824.0M103.0 791.0V808.0M106.4 791.0V803.4M113.3 810.0V832.0M121.9 797.7V814.9M127.0 809.0V828.6M137.3 785.0V820.6M143.0 778.0V794.0M146.4 786.0V803.4M147.9 768.6V788.6M152.0 740.0V777.0M156.4 705.7V740.0M162.0 745.7V771.0M165.0 740.0V765.7M176.4 700.0V740.0M189.3 695.7V722.9M212.0 654.0V700.0M216.4 634.0V660.0M220.7 614.0V640.0M222.9 548.6V600.0M225.7 534.0V588.6M230.0 577.0V640.0M240.0 554.0V600.0M244.3 551.4V588.6M250.0 540.0V577.0M262.9 557.0V591.0M267.1 565.7V608.6M271.4 548.6V577.0M274.3 517.0V560.0M280.0 488.6V525.7M283.4 455.7V497.0M287.1 483.0V517.0M291.4 480.0V514.0M297.1 525.7V600.0M305.7 617.0V657.0M308.6 600.0V640.0M314.6 561.7V584.6M318.0 568.6V596.0M328.3 527.4V561.7M331.7 506.9V538.9M334.0 493.0V520.6M337.9 477.0V506.9M344.3 511.4V543.4M347.7 493.0V516.0M352.3 472.6V502.0M355.7 479.4V506.9M361.4 470.0V497.7M363.7 454.3V477.0M365.3 420.0V454.0M366.3 390.8V421.0M368.8 370.7V405.9M376.4 350.6V380.8M378.9 300.3V345.5M381.4 262.6V312.9M383.2 265.0V340.5M389.0 300.3V350.6M392.7 285.2V330.5M395.2 335.5V390.8M407.8 323.0V365.7M411.6 350.6V390.8M416.6 375.7V405.9M421.6 365.7V403.4M431.7 343.0V378.0M440.5 375.7V395.8M445.0 421.0V463.7M449.3 438.6V468.8M450.3 467.7V492.9M453.7 444.9V476.9M460.6 440.3V463.0M470.9 449.4V481.4M476.6 465.4V486.0M481.0 454.0V467.7M485.7 470.0V481.4M490.3 497.4V513.4M493.7 511.0V536.3M499.4 490.6V531.7M513.0 518.0V538.6M517.7 527.0V550.0M531.4 524.9V545.4M536.0 513.4V536.3M548.6 465.4V486.0M557.7 497.4V527.0M558.2 508.2V524.7M564.4 489.7V512.3M569.5 489.7V508.2M575.7 504.0V537.0M588.0 502.0V524.7M605.6 508.2V520.5M610.7 532.9V549.3M615.8 539.0V553.5M626.1 520.5V537.0M631.3 532.9V545.2M635.4 541.0V549.3M642.6 485.6V508.2M644.0 474.0V497.0M645.7 489.7V508.2M650.8 484.0V506.0M657.0 485.6V506.1M660.0 532.9V553.5M666.0 491.7V517.3M668.7 484.4V506.3M673.3 376.5V433.2M676.0 382.0V414.9M698.0 385.6V411.2M706.2 418.5V446.0M709.9 425.8V455.1M713.5 414.9V444.1M718.1 425.8V447.8M723.6 396.6V422.2M737.3 469.7V499.0M745.5 433.2V458.8M746.6 422.8V451.6M749.8 419.6V442.0M762.6 419.6V442.0M765.8 413.2V445.2M769.0 416.4V442.0M772.2 426.0V458.0M774.6 432.4V448.4M781.0 426.0V445.2M784.2 413.2V435.6M786.6 406.8V426.0M788.2 376.4V402.0M790.6 371.6V397.2M792.2 355.6V378.0M793.8 362.0V390.8M798.6 376.4V403.6M801.0 365.2V390.8M803.4 352.4V378.0M805.5 342.8V362.0M806.6 338.0V349.2" stroke="#000" stroke-width="1.85" fill="none"/>
<path d="M77.1 826.9V830.0M79.2 813.6V841.6M79.6 809.2V816.1M82.1 818.6V824.9M84.2 824.7V844.2M94.6 822.6V829.6M100.5 804.6V816.5M101.8 795.8V812.3M106.8 797.9V805.4M107.1 813.2V818.1M114.6 820.8V824.7M115.8 807.5V815.1M118.0 808.8V824.4M121.8 798.7V815.5M123.0 799.5V819.4M128.0 812.9V822.9M128.3 807.7V814.6M132.1 815.3V820.0M134.6 808.0V813.9M136.8 786.2V819.5M140.5 781.2V796.3M141.8 777.4V795.8M143.3 786.2V789.8M144.6 799.2V804.8M149.2 766.2V780.2M151.8 743.1V776.2M152.1 755.4V759.8M162.1 758.4V763.9M164.2 743.0V768.0M165.5 737.4V764.3M168.3 742.5V748.2M174.2 710.8V743.9M176.8 711.1V737.5M183.0 701.1V719.6M188.3 705.5V711.3M191.8 699.5V717.6M194.2 706.6V722.2M195.5 703.0V720.6M195.8 719.3V723.5M198.3 708.1V715.5M199.6 722.6V726.1M200.8 705.9V713.0M202.1 719.6V724.3M203.3 713.2V720.4M205.8 708.5V712.8M207.1 709.9V713.5M210.5 668.7V702.4M213.0 648.3V689.4M220.8 614.7V621.5M223.0 547.0V589.5M227.1 599.8V603.1M229.6 597.6V601.2M233.0 582.9V620.6M234.2 562.4V607.9M235.5 564.4V599.7M235.8 572.6V578.0M239.2 554.9V584.6M241.8 558.0V594.1M243.3 575.4V580.0M244.6 570.7V576.8M247.1 557.5V565.3M248.3 569.9V577.2M250.8 553.2V558.5M258.0 556.9V574.5M260.5 556.9V576.5M262.1 571.5V574.8M263.4 593.9V597.2M270.9 560.2V563.7M274.2 517.1V549.7M274.6 550.7V556.4M275.9 530.3V537.6M279.6 489.4V494.2M281.8 474.1V509.2M283.0 458.6V499.9M289.2 485.2V512.3M289.6 482.4V489.7M291.8 481.2V510.6M295.9 544.8V548.8M298.4 569.1V574.8M301.8 608.6V655.9M302.1 660.5V666.4M303.4 636.3V640.0M309.2 592.9V631.3M309.6 584.5V588.2M313.0 563.1V593.2M315.5 565.0V589.1M323.4 564.9V571.9M325.5 539.0V571.7M325.9 545.3V552.9M328.4 525.8V533.7M330.5 515.8V547.5M334.2 490.7V518.4M340.5 481.7V511.1M347.1 512.1V516.5M349.2 487.9V504.7M349.6 490.0V497.2M351.8 480.3V503.4M354.6 485.1V491.0M355.9 496.4V499.8M365.9 412.7V418.4M368.0 384.9V410.4M369.2 368.0V398.0M374.2 366.8V385.7M375.9 370.0V375.2M380.5 280.4V323.4M382.1 319.4V323.1M384.6 308.3V314.8M387.1 332.3V340.2M389.6 326.5V330.1M397.1 360.1V363.6M399.2 342.4V368.3M402.1 372.9V378.6M408.0 329.3V368.0M408.4 351.3V358.2M409.6 370.2V376.7M410.9 380.5V384.8M412.1 370.7V374.4M416.8 375.4V399.2M417.1 390.8V397.6M426.8 336.5V363.0M427.1 353.5V360.8M430.5 347.2V377.5M433.4 362.7V370.4M435.5 357.7V380.6M440.9 388.0V391.7M442.1 401.4V408.1M447.1 460.6V464.5M458.0 430.7V459.7M459.2 440.0V462.0M461.8 445.8V462.6M463.0 453.8V471.6M465.5 463.0V478.7M468.4 457.9V461.4M469.6 471.2V475.8M471.8 451.5V481.9M474.2 459.2V485.5M475.5 467.4V486.8M478.4 465.3V470.8M481.8 456.8V469.2M484.2 470.1V476.3M485.5 471.3V480.8M488.0 486.2V496.7M490.5 496.2V513.7M493.0 514.6V530.5M493.4 528.0V533.5M496.8 498.9V523.3M504.2 506.2V524.5M508.0 501.5V528.2M510.5 509.4V530.7M512.1 534.7V538.1M513.4 526.5V531.0M514.6 527.0V530.6M529.2 534.3V550.9M530.5 526.5V546.7M531.8 528.5V544.2M534.2 520.5V538.3M537.1 518.5V522.6M539.2 507.2V519.5M540.5 498.6V514.3M541.8 487.3V506.6M543.0 473.3V497.1M545.5 457.6V476.8M552.1 485.2V489.3M553.4 484.2V488.7M556.8 489.5V516.7M558.0 503.5V524.0M558.4 512.8V518.8M559.6 507.8V514.5M561.8 500.8V517.9M566.8 488.5V512.2M568.0 489.2V508.7M568.4 492.4V496.3M571.8 502.0V510.7M575.9 527.7V532.0M578.0 498.7V526.5M579.2 499.8V520.3M580.9 509.8V514.6M583.0 497.1V514.2M584.6 511.6V515.4M588.4 507.1V512.7M590.5 503.8V521.7M590.9 501.6V509.3M594.2 500.7V519.8M594.6 515.9V519.9M595.9 514.1V520.6M599.2 502.0V518.8M605.5 509.7V521.6M609.2 528.2V537.0M610.9 539.9V546.1M613.0 533.7V547.4M614.2 537.3V549.4M615.5 537.2V549.5M620.5 533.2V548.5M623.0 532.7V541.4M635.5 540.9V549.0M636.8 529.6V541.9M643.0 490.5V507.1M644.6 506.2V511.2M646.8 488.6V506.4M648.0 486.7V506.8M650.5 489.6V507.4M650.9 499.7V506.8M659.2 513.2V538.0M660.5 537.0V575.2M664.2 522.6V551.6M669.2 479.9V500.4M671.8 436.2V471.0M676.8 391.4V423.9M679.2 423.3V443.4M679.6 438.0V444.5M681.8 418.6V445.5M683.4 429.0V432.7M689.2 400.0V408.4M690.5 395.0V413.0M695.5 396.4V417.9M698.4 407.6V412.1M700.5 400.2V416.1M703.4 426.9V430.2M706.8 420.5V448.0M708.4 431.3V436.8M713.0 420.0V437.9M720.5 414.2V436.3M723.4 411.7V415.3M729.2 432.2V458.7M731.8 455.1V473.9M735.5 467.9V494.3M737.1 490.5V494.7M738.4 484.4V491.5M740.5 464.7V484.0M744.6 452.7V459.3M745.9 444.6V447.7M752.1 446.2V449.9M754.2 440.1V460.7M770.9 437.8V440.9M772.1 442.5V446.0M777.1 428.7V433.5M781.8 423.6V439.8M782.1 432.0V437.9M789.6 382.5V389.3M791.8 362.6V384.0M796.8 360.8V380.0M803.0 358.1V377.9M803.4 359.4V364.0M805.5 342.8V361.6M85.9 828.6V845.7M93.9 810.0V833.0M108.7 809.0V824.0M117.9 808.0V828.6M132.7 801.0V824.0M159.9 677.0V717.0M170.7 723.0V751.0M181.3 680.0V708.6M185.0 711.4V734.0M193.6 705.7V722.9M197.9 697.0V720.0M203.6 705.7V728.6M207.9 685.7V714.0M234.3 560.0V611.4M254.3 551.0V577.0M258.6 560.0V577.0M277.1 517.0V548.6M294.9 477.0V520.0M300.0 560.0V640.0M302.3 611.4V676.0M311.0 568.6V614.0M321.4 518.0V557.0M324.9 543.4V571.0M342.0 484.0V516.0M359.1 481.7V500.0M372.6 365.7V393.3M386.4 318.0V355.6M399.0 338.0V370.7M402.8 345.5V390.8M426.7 335.5V370.7M435.5 355.6V380.8M443.5 390.8V411.0M456.0 419.7V458.6M465.1 463.0V481.4M504.0 508.9V531.7M508.6 499.7V527.0M522.3 522.6V545.4M526.9 540.9V559.0M540.6 495.0V518.0M544.7 456.3V481.4M553.1 470.0V495.0M581.9 491.7V512.3M593.2 500.0V520.5M599.4 504.0V520.5M621.0 530.8V553.5M639.5 512.3V537.0M654.0 480.0V502.0M661.0 553.5V598.7M664.2 522.6V557.6M671.5 447.8V491.7M678.8 411.2V444.1M681.5 414.9V447.8M685.2 392.9V425.8M688.8 389.3V414.9M693.4 403.9V422.2M702.6 407.6V425.8M727.3 407.6V433.2M730.0 444.1V466.1M733.7 462.4V491.7M741.0 462.4V491.7M753.8 438.8V464.4M758.6 405.2V432.4M777.8 406.8V438.8M796.5 360.4V387.6" stroke="#e8203c" stroke-width="1.1" fill="none"/>
<path d="M58.0 787.4C59.2 787.7 62.0 788.5 65.3 789.0C68.6 789.5 74.7 789.6 77.9 790.3C81.1 791.0 81.9 791.3 84.7 793.0C87.5 794.7 91.0 798.8 95.0 800.6C99.0 802.4 104.1 802.7 108.7 803.7C113.3 804.7 117.8 805.5 122.4 806.5C127.0 807.5 131.2 808.9 136.2 809.5C141.1 810.1 148.5 810.6 152.1 810.0C155.7 809.4 156.0 807.2 157.6 806.0C159.2 804.8 159.4 804.4 161.7 803.0C164.0 801.6 167.9 800.1 171.3 797.6C174.7 795.1 178.2 791.9 182.3 788.0C186.4 784.1 191.4 778.9 196.0 774.3C200.6 769.7 205.7 765.4 209.7 760.6C213.7 755.8 217.0 749.9 220.0 745.5C223.0 741.1 223.6 743.8 227.9 734.3C232.2 724.8 239.9 701.5 245.7 688.6C251.5 675.7 257.7 666.0 262.9 657.0C268.1 648.0 272.4 641.9 277.1 634.3C281.9 626.7 287.6 618.5 291.4 611.4C295.2 604.2 296.7 596.1 300.0 591.4C303.3 586.6 307.4 585.8 311.4 582.9C315.3 580.0 320.6 576.6 323.7 574.0C326.8 571.4 326.4 570.5 330.0 567.0C333.6 563.5 340.0 557.8 345.0 553.0C350.0 548.2 355.0 543.3 360.0 538.0C365.0 532.7 370.0 530.6 375.0 521.0C380.0 511.4 385.4 491.5 390.0 480.5C394.6 469.5 397.4 463.2 402.9 455.0C408.4 446.8 416.7 439.2 423.0 431.0C429.3 422.8 435.6 411.8 440.6 406.0C445.6 400.2 448.8 398.4 453.0 396.0C457.2 393.6 461.4 392.6 466.0 391.5C470.6 390.4 476.6 389.4 480.8 389.6C485.0 389.9 487.6 390.7 491.0 393.0C494.4 395.3 496.8 398.4 501.0 403.5C505.2 408.6 510.7 415.6 516.0 423.5C521.3 431.4 527.8 443.1 533.0 451.0C538.2 458.9 541.8 463.6 547.0 470.9C552.2 478.2 558.6 489.2 564.3 494.9C570.0 500.6 574.3 501.9 581.4 505.0C588.5 508.1 599.6 511.5 607.0 513.7C614.4 515.9 620.5 517.1 626.0 518.0C631.5 518.9 634.3 519.8 639.7 518.9C645.1 518.0 653.7 513.2 658.6 512.9C663.5 512.6 665.3 517.9 668.9 517.1C672.5 516.3 676.8 510.4 680.0 508.0C683.2 505.6 683.8 506.6 687.9 502.7C692.0 498.8 699.2 488.7 704.4 484.4C709.6 480.1 714.4 480.1 719.0 477.0C723.6 473.9 727.2 469.1 731.8 466.1C736.4 463.1 741.6 462.0 746.5 458.8C751.4 455.6 756.0 450.9 761.1 447.0C766.2 443.1 771.7 438.8 777.0 435.6C782.3 432.4 788.2 429.7 793.0 427.6C797.8 425.5 803.7 423.6 805.8 422.8" stroke="#d6203c" stroke-width="1.3" fill="none" stroke-linejoin="round"/>
<path d="M58.0 797.5C60.5 799.7 68.3 806.9 72.8 810.9C77.2 814.9 81.0 818.4 84.7 821.3C88.4 824.2 92.4 827.6 95.0 828.4C97.6 829.2 98.7 827.8 100.5 826.3C102.3 824.8 104.4 821.0 106.0 819.5C107.6 818.0 108.5 818.0 110.1 817.4C111.7 816.8 113.2 817.0 115.6 816.0C118.0 815.0 122.0 812.2 124.5 811.6C127.0 811.0 128.8 812.0 130.7 812.6C132.6 813.2 134.1 815.7 136.2 815.4C138.2 815.1 140.4 813.2 143.0 810.6C145.6 808.0 150.0 802.5 151.9 799.6C153.8 796.7 153.6 796.1 154.5 793.0C155.4 789.9 156.4 785.3 157.6 781.0C158.8 776.7 159.4 772.2 161.7 767.4C164.0 762.6 168.8 756.9 171.3 752.3C173.8 747.7 175.1 744.3 176.8 740.0C178.5 735.7 179.2 729.1 181.4 726.5C183.6 723.9 187.0 726.2 190.2 724.6C193.3 723.0 197.6 719.2 200.3 717.0C203.0 714.8 204.6 712.8 206.4 711.5C208.2 710.2 209.3 712.9 211.4 709.3C213.5 705.7 216.9 695.9 218.9 690.0C220.9 684.1 222.0 681.2 223.7 674.0C225.4 666.8 227.1 655.4 229.2 646.7C231.2 638.0 233.7 629.3 236.0 622.0C238.3 614.7 240.4 609.7 242.9 602.9C245.4 596.1 248.8 584.9 251.1 581.0C253.4 577.1 254.6 580.8 256.6 579.6C258.7 578.4 260.0 577.3 263.4 574.0C266.8 570.7 272.4 567.1 277.1 560.0C281.8 552.9 287.8 538.1 291.4 531.4C295.0 524.7 295.3 517.1 298.6 520.0C301.9 522.9 308.0 540.1 311.4 548.6C314.8 557.1 316.7 565.3 319.1 570.9C321.5 576.5 324.1 581.2 326.0 582.3C327.9 583.4 328.7 583.4 330.6 577.7C332.5 572.0 334.7 556.4 337.4 548.0C340.1 539.6 343.6 533.5 346.6 527.4C349.7 521.3 353.0 516.4 355.7 511.4C358.4 506.4 360.3 504.2 362.6 497.7C364.9 491.2 367.4 478.9 369.4 472.6C371.3 466.3 372.6 468.8 374.3 460.0C376.0 451.2 378.1 431.3 379.7 420.0C381.3 408.7 382.4 400.2 384.0 392.0C385.6 383.8 387.5 378.3 389.4 370.5C391.3 362.7 393.3 350.5 395.2 345.0C397.1 339.5 398.8 339.0 401.0 337.4C403.2 335.8 406.5 334.6 408.7 335.5C410.9 336.4 412.0 339.1 414.0 343.0C416.0 346.9 418.1 354.6 420.5 358.8C422.9 363.1 425.7 366.7 428.3 368.5C430.9 370.3 432.8 366.9 436.0 369.5C439.2 372.1 444.5 378.8 447.7 384.0C450.9 389.2 452.9 396.1 455.0 400.9C457.1 405.7 458.2 405.2 460.6 412.9C463.1 420.6 466.3 438.7 469.7 447.1C473.1 455.5 477.7 458.9 481.1 463.1C484.5 467.3 485.7 466.2 490.3 472.3C494.9 478.4 503.3 491.3 508.6 499.7C513.9 508.1 518.1 516.9 522.3 522.6C526.5 528.3 530.7 531.9 533.7 534.0C536.7 536.1 537.5 538.1 540.3 535.0C543.1 531.9 547.2 520.4 550.6 515.4C554.0 510.4 557.5 508.1 560.9 505.0C564.3 501.9 567.7 496.6 571.1 496.6C574.5 496.6 578.0 503.0 581.4 505.0C584.8 507.0 587.4 507.2 591.7 508.6C596.0 510.1 602.0 510.6 607.1 513.7C612.2 516.8 617.5 523.1 622.6 527.4C627.8 531.7 633.4 539.4 638.0 539.4C642.6 539.4 646.3 531.4 650.0 527.4C653.7 523.4 657.5 518.0 660.3 515.4C663.1 512.8 664.8 515.1 667.0 512.0C669.2 508.9 671.1 502.7 673.3 497.0C675.5 491.3 678.5 482.2 680.0 477.7C681.5 473.1 680.5 476.5 682.4 469.7C684.3 462.9 688.4 446.9 691.6 436.8C694.8 426.8 698.6 413.4 701.6 409.4C704.6 405.4 707.3 411.5 709.9 413.0C712.5 414.5 714.5 416.7 717.2 418.5C719.9 420.3 723.2 420.6 726.3 424.0C729.3 427.4 732.5 434.1 735.5 438.7C738.5 443.3 741.4 448.6 744.6 451.5C747.8 454.4 751.6 457.3 754.6 456.4C757.6 455.5 760.0 449.5 762.9 446.0C765.8 442.5 768.0 438.4 772.2 435.6C776.4 432.8 783.9 432.9 788.2 429.2C792.5 425.5 794.9 418.8 797.8 413.2C800.7 407.6 804.5 398.5 805.8 395.6" stroke="#1c1ca8" stroke-width="1.3" fill="none" stroke-linejoin="round"/>
<line x1="300" y1="678" x2="454" y2="320" stroke="#333" stroke-width="1.6" stroke-dasharray="5,3"/>
<line x1="203" y1="729" x2="319" y2="486" stroke="#333" stroke-width="1.6" stroke-dasharray="5,3"/>
<line x1="660" y1="598" x2="837" y2="379" stroke="#333" stroke-width="1.6" stroke-dasharray="5,3"/>
<text x="854.5" y="67.8" font-family="Liberation Sans, sans-serif" font-size="12" fill="#111" font-weight="normal" text-anchor="end">90</text>
<text x="854.5" y="106.8" font-family="Liberation Sans, sans-serif" font-size="12" fill="#111" font-weight="normal" text-anchor="end">70</text>
<text x="854.5" y="145.39999999999998" font-family="Liberation Sans, sans-serif" font-size="12" fill="#111" font-weight="normal" text-anchor="end">50</text>
<text x="854.5" y="184.89999999999998" font-family="Liberation Sans, sans-serif" font-size="12" fill="#111" font-weight="normal" text-anchor="end">30</text>
<text x="854.5" y="224.79999999999998" font-family="Liberation Sans, sans-serif" font-size="12" fill="#111" font-weight="normal" text-anchor="end">10</text>
<text x="854.5" y="260.8762351341564" font-family="Liberation Sans, sans-serif" font-size="12" fill="#111" font-weight="normal" text-anchor="end">50</text>
<text x="854.5" y="270.3959242562799" font-family="Liberation Sans, sans-serif" font-size="12" fill="#111" font-weight="normal" text-anchor="end">48</text>
<text x="854.5" y="280.3208263387431" font-family="Liberation Sans, sans-serif" font-size="12" fill="#111" font-weight="normal" text-anchor="end">46</text>
<text x="854.5" y="290.68697737026156" font-family="Liberation Sans, sans-serif" font-size="12" fill="#111" font-weight="normal" text-anchor="end">44</text>
<text x="854.5" y="301.53544501631853" font-family="Liberation Sans, sans-serif" font-size="12" fill="#111" font-weight="normal" text-anchor="end">42</text>
<text x="854.5" y="312.91331130063014" font-family="Liberation Sans, sans-serif" font-size="12" fill="#111" font-weight="normal" text-anchor="end">40</text>
<text x="854.5" y="324.874907551807" font-family="Liberation Sans, sans-serif" font-size="12" fill="#111" font-weight="normal" text-anchor="end">38</text>
<text x="854.5" y="337.48338355203526" font-family="Liberation Sans, sans-serif" font-size="12" fill="#111" font-weight="normal" text-anchor="end">36</text>
<text x="854.5" y="350.81272565951116" font-family="Liberation Sans, sans-serif" font-size="12" fill="#111" font-weight="normal" text-anchor="end">34</text>
<text x="854.5" y="364.9503874671038" font-family="Liberation Sans, sans-serif" font-size="12" fill="#111" font-weight="normal" text-anchor="end">32</text>
<text x="854.5" y="380.0007705963854" font-family="Liberation Sans, sans-serif" font-size="12" fill="#111" font-weight="normal" text-anchor="end">30</text>
<text x="854.5" y="396.08990822714253" font-family="Liberation Sans, sans-serif" font-size="12" fill="#111" font-weight="normal" text-anchor="end">28</text>
<text x="854.5" y="413.3718873333905" font-family="Liberation Sans, sans-serif" font-size="12" fill="#111" font-weight="normal" text-anchor="end">26</text>
<text x="854.5" y="432.03784676285915" font-family="Liberation Sans, sans-serif" font-size="12" fill="#111" font-weight="normal" text-anchor="end">24</text>
<text x="854.5" y="452.3288998768408" font-family="Liberation Sans, sans-serif" font-size="12" fill="#111" font-weight="normal" text-anchor="end">22</text>
<text x="854.5" y="474.5552338072094" font-family="Liberation Sans, sans-serif" font-size="12" fill="#111" font-weight="normal" text-anchor="end">20</text>
<text x="854.5" y="499.1253060586145" font-family="Liberation Sans, sans-serif" font-size="12" fill="#111" font-weight="normal" text-anchor="end">18</text>
<text x="854.5" y="526.5923099736832" font-family="Liberation Sans, sans-serif" font-size="12" fill="#111" font-weight="normal" text-anchor="end">16</text>
<text x="854.5" y="557.7318307337218" font-family="Liberation Sans, sans-serif" font-size="12" fill="#111" font-weight="normal" text-anchor="end">14</text>
<text x="854.5" y="593.6797692694385" font-family="Liberation Sans, sans-serif" font-size="12" fill="#111" font-weight="normal" text-anchor="end">12</text>
<text x="854.5" y="636.1971563137886" font-family="Liberation Sans, sans-serif" font-size="12" fill="#111" font-weight="normal" text-anchor="end">10</text>
<text x="854.5" y="688.2342324802623" font-family="Liberation Sans, sans-serif" font-size="12" fill="#111" font-weight="normal" text-anchor="end">8</text>
<text x="854.5" y="755.3216917760177" font-family="Liberation Sans, sans-serif" font-size="12" fill="#111" font-weight="normal" text-anchor="end">6</text>
<text x="854.5" y="849.8761549868416" font-family="Liberation Sans, sans-serif" font-size="12" fill="#111" font-weight="normal" text-anchor="end">4</text>
<text x="21.6" y="672.7040000000001" font-family="Liberation Sans, sans-serif" font-size="12" fill="#111" font-weight="normal" text-anchor="start" textLength="32.4" lengthAdjust="spacingAndGlyphs">140M</text>
<text x="21.6" y="699.1320000000001" font-family="Liberation Sans, sans-serif" font-size="12" fill="#111" font-weight="normal" text-anchor="start" textLength="32.4" lengthAdjust="spacingAndGlyphs">120M</text>
<text x="21.6" y="725.5600000000001" font-family="Liberation Sans, sans-serif" font-size="12" fill="#111" font-weight="normal" text-anchor="start" textLength="32.4" lengthAdjust="spacingAndGlyphs">100M</text>
<text x="28.3" y="751.988" font-family="Liberation Sans, sans-serif" font-size="12" fill="#111" font-weight="normal" text-anchor="start" textLength="25.7" lengthAdjust="spacingAndGlyphs">80M</text>
<text x="28.3" y="778.416" font-family="Liberation Sans, sans-serif" font-size="12" fill="#111" font-weight="normal" text-anchor="start" textLength="25.7" lengthAdjust="spacingAndGlyphs">60M</text>
<text x="28.3" y="804.844" font-family="Liberation Sans, sans-serif" font-size="12" fill="#111" font-weight="normal" text-anchor="start" textLength="25.7" lengthAdjust="spacingAndGlyphs">40M</text>
<text x="28.3" y="831.272" font-family="Liberation Sans, sans-serif" font-size="12" fill="#111" font-weight="normal" text-anchor="start" textLength="25.7" lengthAdjust="spacingAndGlyphs">20M</text>
<path d="M89.5 871.5V873M120.9 871.5V873M152.3 871.5V873M183.7 871.5V873M215.0 871.5V873M246.4 871.5V873M277.8 871.5V873M309.2 871.5V873M340.6 871.5V873M372.0 871.5V873M403.4 871.5V873M434.8 871.5V873M466.2 871.5V873M497.6 871.5V873M529.0 871.5V873M560.3 871.5V873M591.7 871.5V873M623.1 871.5V873M654.5 871.5V873M685.9 871.5V873M717.3 871.5V873M748.7 871.5V873M780.1 871.5V873M811.5 871.5V873" stroke="#c8c8c8" stroke-width="1"/>
<text x="57.4" y="868.4" font-family="Liberation Sans, sans-serif" font-size="11.6" fill="#111" font-weight="normal" text-anchor="middle">01</text>
<text x="88.80000000000001" y="868.4" font-family="Liberation Sans, sans-serif" font-size="11.6" fill="#111" font-weight="normal" text-anchor="middle">02</text>
<text x="120.2" y="868.4" font-family="Liberation Sans, sans-serif" font-size="11.6" fill="#111" font-weight="normal" text-anchor="middle">03</text>
<text x="151.6" y="868.4" font-family="Liberation Sans, sans-serif" font-size="11.6" fill="#111" font-weight="normal" text-anchor="middle">04</text>
<text x="183.0" y="868.4" font-family="Liberation Sans, sans-serif" font-size="11.6" fill="#111" font-weight="normal" text-anchor="middle">05</text>
<text x="214.4" y="868.4" font-family="Liberation Sans, sans-serif" font-size="11.6" fill="#111" font-weight="normal" text-anchor="middle">06</text>
<text x="245.79999999999998" y="868.4" font-family="Liberation Sans, sans-serif" font-size="11.6" fill="#111" font-weight="normal" text-anchor="middle">07</text>
<text x="277.19999999999993" y="868.4" font-family="Liberation Sans, sans-serif" font-size="11.6" fill="#111" font-weight="normal" text-anchor="middle">08</text>
<text x="308.59999999999997" y="868.4" font-family="Liberation Sans, sans-serif" font-size="11.6" fill="#111" font-weight="normal" text-anchor="middle">09</text>
<text x="339.99999999999994" y="868.4" font-family="Liberation Sans, sans-serif" font-size="11.6" fill="#111" font-weight="normal" text-anchor="middle">10</text>
<text x="371.4" y="868.4" font-family="Liberation Sans, sans-serif" font-size="11.6" fill="#111" font-weight="normal" text-anchor="middle">11</text>
<text x="402.79999999999995" y="868.4" font-family="Liberation Sans, sans-serif" font-size="11.6" fill="#111" font-weight="normal" text-anchor="middle">12</text>
<text x="434.19999999999993" y="868.4" font-family="Liberation Sans, sans-serif" font-size="11.6" fill="#111" font-weight="normal" text-anchor="middle">13</text>
<text x="465.59999999999997" y="868.4" font-family="Liberation Sans, sans-serif" font-size="11.6" fill="#111" font-weight="normal" text-anchor="middle">14</text>
<text x="496.99999999999994" y="868.4" font-family="Liberation Sans, sans-serif" font-size="11.6" fill="#111" font-weight="normal" text-anchor="middle">15</text>
<text x="528.4" y="868.4" font-family="Liberation Sans, sans-serif" font-size="11.6" fill="#111" font-weight="normal" text-anchor="middle">16</text>
<text x="559.8" y="868.4" font-family="Liberation Sans, sans-serif" font-size="11.6" fill="#111" font-weight="normal" text-anchor="middle">17</text>
<text x="591.1999999999999" y="868.4" font-family="Liberation Sans, sans-serif" font-size="11.6" fill="#111" font-weight="normal" text-anchor="middle">18</text>
<text x="622.5999999999999" y="868.4" font-family="Liberation Sans, sans-serif" font-size="11.6" fill="#111" font-weight="normal" text-anchor="middle">19</text>
<text x="654.0" y="868.4" font-family="Liberation Sans, sans-serif" font-size="11.6" fill="#111" font-weight="normal" text-anchor="middle">20</text>
<text x="685.4" y="868.4" font-family="Liberation Sans, sans-serif" font-size="11.6" fill="#111" font-weight="normal" text-anchor="middle">21</text>
<text x="716.8" y="868.4" font-family="Liberation Sans, sans-serif" font-size="11.6" fill="#111" font-weight="normal" text-anchor="middle">22</text>
<text x="748.1999999999999" y="868.4" font-family="Liberation Sans, sans-serif" font-size="11.6" fill="#111" font-weight="normal" text-anchor="middle">23</text>
<text x="779.5999999999999" y="868.4" font-family="Liberation Sans, sans-serif" font-size="11.6" fill="#111" font-weight="normal" text-anchor="middle">24</text>
<text x="810.9999999999999" y="868.4" font-family="Liberation Sans, sans-serif" font-size="11.6" fill="#111" font-weight="normal" text-anchor="middle">25</text>
<text x="57.7" y="17.2" font-family="Liberation Sans, sans-serif" font-size="15.3" fill="#000" font-weight="bold" text-anchor="start" textLength="67" lengthAdjust="spacingAndGlyphs">$SILVER</text>
<text x="129.2" y="16.6" font-family="Liberation Sans, sans-serif" font-size="13" fill="#000" font-weight="normal" text-anchor="start" textLength="208" lengthAdjust="spacingAndGlyphs">Silver - Continuous Contract (EOD)</text>
<text x="344.3" y="16.6" font-family="Liberation Sans, sans-serif" font-size="11" fill="#000" font-weight="normal" text-anchor="start" textLength="27.4" lengthAdjust="spacingAndGlyphs">CME</text>
<text x="57.5" y="32.5" font-family="Liberation Sans, sans-serif" font-size="12.5" fill="#000" font-weight="normal" text-anchor="start" textLength="73" lengthAdjust="spacingAndGlyphs">29-Oct-2024</text>
<text x="282.4" y="32.2" font-family="Liberation Sans, sans-serif" font-size="13" fill="#000" font-weight="bold" text-anchor="start" textLength="34.6" lengthAdjust="spacingAndGlyphs">Open</text>
<text x="321.8" y="32.2" font-family="Liberation Sans, sans-serif" font-size="12.5" fill="#000" font-weight="normal" text-anchor="start" textLength="33.4" lengthAdjust="spacingAndGlyphs">33.83</text>
<text x="363" y="32.2" font-family="Liberation Sans, sans-serif" font-size="13" fill="#000" font-weight="bold" text-anchor="start" textLength="29" lengthAdjust="spacingAndGlyphs">High</text>
<text x="396.5" y="32.2" font-family="Liberation Sans, sans-serif" font-size="12.5" fill="#000" font-weight="normal" text-anchor="start" textLength="33.6" lengthAdjust="spacingAndGlyphs">34.72</text>
<text x="438" y="32.2" font-family="Liberation Sans, sans-serif" font-size="13" fill="#000" font-weight="bold" text-anchor="start" textLength="28.9" lengthAdjust="spacingAndGlyphs">Low</text>
<text x="471.6" y="32.2" font-family="Liberation Sans, sans-serif" font-size="12.5" fill="#000" font-weight="normal" text-anchor="start" textLength="33.6" lengthAdjust="spacingAndGlyphs">33.39</text>
<text x="513.4" y="32.2" font-family="Liberation Sans, sans-serif" font-size="13" fill="#000" font-weight="bold" text-anchor="start" textLength="38.9" lengthAdjust="spacingAndGlyphs">Close</text>
<text x="557" y="32.2" font-family="Liberation Sans, sans-serif" font-size="12.5" fill="#000" font-weight="normal" text-anchor="start" textLength="34.2" lengthAdjust="spacingAndGlyphs">34.44</text>
<text x="599.1" y="32.2" font-family="Liberation Sans, sans-serif" font-size="13" fill="#000" font-weight="bold" text-anchor="start" textLength="51.8" lengthAdjust="spacingAndGlyphs">Volume</text>
<text x="656.2" y="32.2" font-family="Liberation Sans, sans-serif" font-size="12.5" fill="#000" font-weight="normal" text-anchor="start" textLength="36.8" lengthAdjust="spacingAndGlyphs">13.5M</text>
<text x="700.8" y="32.2" font-family="Liberation Sans, sans-serif" font-size="13" fill="#000" font-weight="bold" text-anchor="start" textLength="27.7" lengthAdjust="spacingAndGlyphs">Chg</text>
<text x="732" y="32.2" font-family="Liberation Sans, sans-serif" font-size="12.5" fill="#000" font-weight="normal" text-anchor="start" textLength="90.4" lengthAdjust="spacingAndGlyphs">+0.66 (+1.96%)</text>
<path d="M826.4 31.6L831 26L835.6 31.6Z" fill="#2b6e2b"/>
<text x="723.6" y="16" font-family="Liberation Sans, sans-serif" font-size="12.5" fill="#555" font-weight="normal" text-anchor="start" textLength="112" lengthAdjust="spacingAndGlyphs">© StockCharts.com</text>
<text x="77.2" y="48.4" font-family="Liberation Mono, monospace" font-size="11.5" fill="#000" font-weight="normal" text-anchor="start" textLength="97.4" lengthAdjust="spacingAndGlyphs" stroke="#000" stroke-width="0.25">RSI(14) 68.20</text>
<path d="M61.5 48.3L66 38.5L69 44L71 41L73 48.3Z" fill="#6aa06a"/><path d="M61.5 48.3L66 38.5L69 44L71 41L73 48.3" fill="none" stroke="#222" stroke-width="1"/>
<text x="75.8" y="261.2" font-family="Liberation Mono, monospace" font-size="12" fill="#333" font-weight="normal" text-anchor="start" textLength="233.8" lengthAdjust="spacingAndGlyphs">$SILVER (Weekly) 34.44 (29 Oct)</text>
<path d="M62 253V261M64.5 255V262M67 252V260M69.5 254V261M72 253V260" stroke="#111" stroke-width="1.8"/>
<line x1="62" y1="269.7" x2="73" y2="269.7" stroke="#1c1ca8" stroke-width="2"/>
<text x="75" y="274.4" font-family="Liberation Sans, sans-serif" font-size="11" fill="#1c1ca8" font-weight="normal" text-anchor="start" textLength="72.9" lengthAdjust="spacingAndGlyphs">MA(50) 27.65</text>
<line x1="62" y1="283.6" x2="73" y2="283.6" stroke="#d6203c" stroke-width="2"/>
<text x="75" y="288.3" font-family="Liberation Sans, sans-serif" font-size="11" fill="#d6203c" font-weight="normal" text-anchor="start" textLength="79" lengthAdjust="spacingAndGlyphs">MA(200) 24.50</text>
<path d="M62.5 300.5V294M65 300.5V292M67.5 300.5V295M70 300.5V291M72.5 300.5V294" stroke="#555" stroke-width="1.8"/>
<text x="75" y="300.7" font-family="Liberation Sans, sans-serif" font-size="11" fill="#444" font-weight="normal" text-anchor="start" textLength="101.3" lengthAdjust="spacingAndGlyphs">Volume 13,522,400</text>
<polygon points="75.3,81.8 334.1,81.8 365.7,59.1 341.9,88.5 341.9,127.0 367.9,167.5 334.1,134.1 75.3,134.1" fill="#bdbdbd" opacity="0.8"/>
<polygon points="72.8,79.3 331.6,79.3 363.2,56.6 339.4,86.0 339.4,124.5 365.4,165.0 331.6,131.6 72.8,131.6" fill="#fff" stroke="#8a8a8a" stroke-width="1.3" stroke-linejoin="miter"/>
<text x="77.6" y="100.3" font-family="Liberation Sans, sans-serif" font-size="18" fill="#000" font-weight="bold" text-anchor="start" textLength="228" lengthAdjust="spacingAndGlyphs">The next major targets for</text>
<text x="77.4" y="121.5" font-family="Liberation Sans, sans-serif" font-size="18" fill="#000" font-weight="bold" text-anchor="start" textLength="227" lengthAdjust="spacingAndGlyphs">tops are $75-$77 and $120.</text>
<polygon points="471.8,227.5 737.0,227.5 737.0,276.2 800.5,336.3 729.2,282.8 471.8,282.8" fill="#bdbdbd" opacity="0.8"/>
<polygon points="469.3,225.0 734.5,225.0 734.5,273.7 798.0,333.8 726.7,280.3 469.3,280.3" fill="#fff" stroke="#8a8a8a" stroke-width="1.3" stroke-linejoin="miter"/>
<text x="473.4" y="247.4" font-family="Liberation Sans, sans-serif" font-size="19" fill="#000" font-weight="bold" text-anchor="start" textLength="197" lengthAdjust="spacingAndGlyphs">The 61.8% Fibonacci</text>
<text x="473.4" y="270.6" font-family="Liberation Sans, sans-serif" font-size="19" fill="#000" font-weight="bold" text-anchor="start" textLength="242.6" lengthAdjust="spacingAndGlyphs">retracement was reached.</text>
<polygon points="314.2,721.9 707.7,721.9 707.7,800.1 314.2,800.1" fill="#bdbdbd" opacity="0.8"/>
<polygon points="311.7,719.4 705.2,719.4 705.2,797.6 311.7,797.6" fill="#fff" stroke="#8a8a8a" stroke-width="1.3" stroke-linejoin="miter"/>
<text x="315.4" y="740.4" font-family="Liberation Sans, sans-serif" font-size="18" fill="#0b7d0b" font-weight="bold" text-anchor="start" textLength="340.6" lengthAdjust="spacingAndGlyphs">Each previous major top could have</text>
<text x="315.4" y="764.2" font-family="Liberation Sans, sans-serif" font-size="18" fill="#0b7d0b" font-weight="bold" text-anchor="start" textLength="370.2" lengthAdjust="spacingAndGlyphs">been forecasted based on the previous</text>
<text x="315.4" y="787.3" font-family="Liberation Sans, sans-serif" font-size="18" fill="#0b7d0b" font-weight="bold" text-anchor="start" textLength="330.9" lengthAdjust="spacingAndGlyphs">tops and the Fibonacci extensions.</text>
<rect x="589" y="61" width="240" height="29.7" fill="#c8c8c8"/>
<rect x="586.5" y="58.3" width="240.2" height="29.7" fill="#fff" stroke="#8a8a8a" stroke-width="1.2"/>
<line x1="646.9" y1="58.3" x2="646.9" y2="88" stroke="#8a8a8a" stroke-width="1.2"/>
<text x="591.3" y="79" font-family="Liberation Sans, sans-serif" font-size="18" fill="#5a5a5a" font-weight="bold" text-anchor="start" textLength="51.1" lengthAdjust="spacingAndGlyphs">Silver</text>
<text x="650.4" y="79" font-family="Liberation Sans, sans-serif" font-size="18" fill="#000" font-weight="bold" text-anchor="start" textLength="164.4" lengthAdjust="spacingAndGlyphs">PriceForecast.com</text>
</svg>
</body></html>
